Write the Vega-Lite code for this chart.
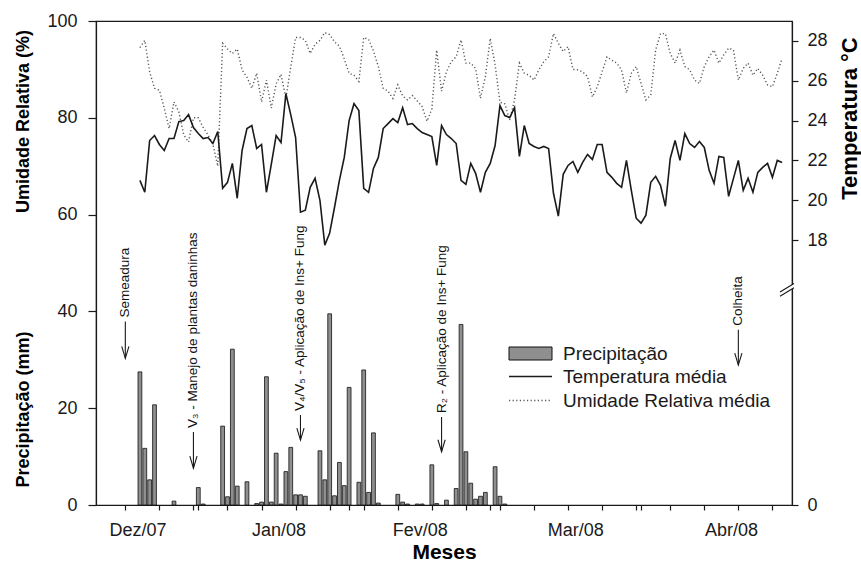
{
  "$schema": "https://vega.github.io/schema/vega-lite/v6.json",
  "width": 696,
  "height": 484,
  "autosize": {"type": "none"},
  "padding": {"left": 96, "top": 21, "right": 69, "bottom": 57},
  "background": "white",
  "config": {
    "font": "Liberation Sans",
    "view": {"stroke": "#1a1a1a", "strokeWidth": 1.2},
    "axis": {
      "grid": false,
      "domainColor": "#1a1a1a",
      "domainWidth": 1.2,
      "tickColor": "#1a1a1a",
      "tickWidth": 1.2,
      "labelColor": "#1a1a1a",
      "titleColor": "#000000",
      "labelFont": "Liberation Sans",
      "titleFont": "Liberation Sans",
      "labelFontSize": 18,
      "titleFontSize": 18,
      "titleFontWeight": "bold"
    },
    "legend": {
      "title": null,
      "orient": "none",
      "padding": 0,
      "labelFont": "Liberation Sans",
      "labelFontSize": 19,
      "labelColor": "#1a1a1a",
      "labelLimit": 400,
      "labelOffset": 23,
      "symbolSize": 100
    }
  },
  "datasets": {
    "clima": [
      {"data": "2007-12-20", "temp": 21.0, "ur": 94.5, "prec": 27.5},
      {"data": "2007-12-21", "temp": 20.4, "ur": 96.0, "prec": 11.7},
      {"data": "2007-12-22", "temp": 23.0, "ur": 89.5, "prec": 5.2},
      {"data": "2007-12-23", "temp": 23.25, "ur": 86.1, "prec": 20.7},
      {"data": "2007-12-24", "temp": 22.8, "ur": 85.7},
      {"data": "2007-12-25", "temp": 22.5, "ur": 82.0},
      {"data": "2007-12-26", "temp": 23.1, "ur": 77.8},
      {"data": "2007-12-27", "temp": 23.1, "ur": 83.3, "prec": 0.8},
      {"data": "2007-12-28", "temp": 23.95, "ur": 81.2},
      {"data": "2007-12-29", "temp": 24.0, "ur": 76.5},
      {"data": "2007-12-30", "temp": 24.3, "ur": 75.0},
      {"data": "2007-12-31", "temp": 23.65, "ur": 80.0},
      {"data": "2008-01-01", "temp": 23.35, "ur": 80.0, "prec": 3.6},
      {"data": "2008-01-02", "temp": 23.1, "ur": 78.0, "prec": 0.2},
      {"data": "2008-01-03", "temp": 23.15, "ur": 76.5},
      {"data": "2008-01-04", "temp": 22.85, "ur": 74.5},
      {"data": "2008-01-05", "temp": 23.45, "ur": 70.0},
      {"data": "2008-01-06", "temp": 20.6, "ur": 95.4, "prec": 16.3},
      {"data": "2008-01-07", "temp": 20.9, "ur": 94.2, "prec": 1.7},
      {"data": "2008-01-08", "temp": 21.85, "ur": 93.3, "prec": 32.2},
      {"data": "2008-01-09", "temp": 20.1, "ur": 94.2, "prec": 3.9},
      {"data": "2008-01-10", "temp": 22.5, "ur": 89.9},
      {"data": "2008-01-11", "temp": 23.6, "ur": 88.4, "prec": 4.8},
      {"data": "2008-01-12", "temp": 23.75, "ur": 86.1},
      {"data": "2008-01-13", "temp": 22.6, "ur": 89.2, "prec": 0.3},
      {"data": "2008-01-14", "temp": 22.8, "ur": 83.3, "prec": 0.6},
      {"data": "2008-01-15", "temp": 20.4, "ur": 87.8, "prec": 26.5},
      {"data": "2008-01-16", "temp": 21.8, "ur": 82.0, "prec": 0.6},
      {"data": "2008-01-17", "temp": 23.25, "ur": 87.0, "prec": 10.7},
      {"data": "2008-01-18", "temp": 22.9, "ur": 89.0, "prec": 0.2},
      {"data": "2008-01-19", "temp": 25.35, "ur": 84.0, "prec": 6.9},
      {"data": "2008-01-20", "temp": 24.3, "ur": 90.5, "prec": 11.9},
      {"data": "2008-01-21", "temp": 23.15, "ur": 96.6, "prec": 2.1},
      {"data": "2008-01-22", "temp": 19.4, "ur": 96.6, "prec": 2.1},
      {"data": "2008-01-23", "temp": 19.5, "ur": 96.0, "prec": 1.8},
      {"data": "2008-01-24", "temp": 20.65, "ur": 93.3},
      {"data": "2008-01-25", "temp": 21.1, "ur": 95.2},
      {"data": "2008-01-26", "temp": 20.0, "ur": 96.0, "prec": 11.2},
      {"data": "2008-01-27", "temp": 17.75, "ur": 97.6, "prec": 5.2},
      {"data": "2008-01-28", "temp": 18.35, "ur": 97.2, "prec": 39.5},
      {"data": "2008-01-29", "temp": 19.65, "ur": 95.7, "prec": 1.9},
      {"data": "2008-01-30", "temp": 21.0, "ur": 94.8, "prec": 8.8},
      {"data": "2008-01-31", "temp": 22.15, "ur": 92.2, "prec": 4.0},
      {"data": "2008-02-01", "temp": 24.0, "ur": 89.2, "prec": 24.3},
      {"data": "2008-02-02", "temp": 24.85, "ur": 88.8},
      {"data": "2008-02-03", "temp": 24.5, "ur": 87.5, "prec": 4.7},
      {"data": "2008-02-04", "temp": 20.6, "ur": 96.6, "prec": 27.9},
      {"data": "2008-02-05", "temp": 20.4, "ur": 96.2, "prec": 2.6},
      {"data": "2008-02-06", "temp": 21.6, "ur": 93.8, "prec": 14.9},
      {"data": "2008-02-07", "temp": 22.15, "ur": 90.6, "prec": 0.4},
      {"data": "2008-02-08", "temp": 23.6, "ur": 86.1},
      {"data": "2008-02-09", "temp": 23.85, "ur": 85.5},
      {"data": "2008-02-10", "temp": 24.1, "ur": 84.0},
      {"data": "2008-02-11", "temp": 23.9, "ur": 86.8, "prec": 2.2},
      {"data": "2008-02-12", "temp": 24.65, "ur": 84.5, "prec": 0.6},
      {"data": "2008-02-13", "temp": 23.8, "ur": 83.7, "prec": 0.2},
      {"data": "2008-02-14", "temp": 23.85, "ur": 84.6},
      {"data": "2008-02-15", "temp": 23.6, "ur": 83.5, "prec": 0.2},
      {"data": "2008-02-16", "temp": 23.4, "ur": 82.3, "prec": 0.2},
      {"data": "2008-02-17", "temp": 23.3, "ur": 79.3},
      {"data": "2008-02-18", "temp": 23.2, "ur": 81.8, "prec": 8.3},
      {"data": "2008-02-19", "temp": 21.75, "ur": 94.0, "prec": 0.3},
      {"data": "2008-02-20", "temp": 23.75, "ur": 85.5},
      {"data": "2008-02-21", "temp": 23.3, "ur": 89.5, "prec": 1.0},
      {"data": "2008-02-22", "temp": 23.1, "ur": 91.6},
      {"data": "2008-02-23", "temp": 22.85, "ur": 92.6, "prec": 3.4},
      {"data": "2008-02-24", "temp": 21.0, "ur": 96.1, "prec": 37.3},
      {"data": "2008-02-25", "temp": 20.8, "ur": 91.3, "prec": 11.0},
      {"data": "2008-02-26", "temp": 21.85, "ur": 91.3, "prec": 4.5},
      {"data": "2008-02-27", "temp": 21.35, "ur": 90.2, "prec": 1.2},
      {"data": "2008-02-28", "temp": 20.4, "ur": 84.0, "prec": 1.8},
      {"data": "2008-02-29", "temp": 21.4, "ur": 88.5, "prec": 2.6},
      {"data": "2008-03-01", "temp": 21.85, "ur": 96.4},
      {"data": "2008-03-02", "temp": 22.75, "ur": 91.0, "prec": 7.9},
      {"data": "2008-03-03", "temp": 24.75, "ur": 83.2, "prec": 1.8},
      {"data": "2008-03-04", "temp": 24.25, "ur": 82.9, "prec": 0.2},
      {"data": "2008-03-05", "temp": 24.15, "ur": 79.5},
      {"data": "2008-03-06", "temp": 24.65, "ur": 83.7},
      {"data": "2008-03-07", "temp": 22.2, "ur": 91.3},
      {"data": "2008-03-08", "temp": 23.75, "ur": 89.2},
      {"data": "2008-03-09", "temp": 22.85, "ur": 88.8},
      {"data": "2008-03-10", "temp": 22.7, "ur": 87.8},
      {"data": "2008-03-11", "temp": 22.6, "ur": 89.9},
      {"data": "2008-03-12", "temp": 22.7, "ur": 91.6},
      {"data": "2008-03-13", "temp": 22.6, "ur": 92.6},
      {"data": "2008-03-14", "temp": 20.35, "ur": 97.4},
      {"data": "2008-03-15", "temp": 19.2, "ur": 95.4},
      {"data": "2008-03-16", "temp": 21.3, "ur": 93.7},
      {"data": "2008-03-17", "temp": 21.75, "ur": 94.7},
      {"data": "2008-03-18", "temp": 21.95, "ur": 90.0},
      {"data": "2008-03-19", "temp": 21.4, "ur": 89.9},
      {"data": "2008-03-20", "temp": 21.9, "ur": 89.5},
      {"data": "2008-03-21", "temp": 22.3, "ur": 88.5},
      {"data": "2008-03-22", "temp": 22.05, "ur": 84.3},
      {"data": "2008-03-23", "temp": 22.8, "ur": 86.4},
      {"data": "2008-03-24", "temp": 22.8, "ur": 89.5},
      {"data": "2008-03-25", "temp": 21.4, "ur": 92.6},
      {"data": "2008-03-26", "temp": 21.15, "ur": 91.9},
      {"data": "2008-03-27", "temp": 20.85, "ur": 91.3},
      {"data": "2008-03-28", "temp": 20.65, "ur": 89.9},
      {"data": "2008-03-29", "temp": 22.0, "ur": 85.1},
      {"data": "2008-03-30", "temp": 20.5, "ur": 89.2},
      {"data": "2008-03-31", "temp": 19.1, "ur": 90.6},
      {"data": "2008-04-01", "temp": 18.85, "ur": 87.1},
      {"data": "2008-04-02", "temp": 19.25, "ur": 83.7},
      {"data": "2008-04-03", "temp": 20.9, "ur": 84.7},
      {"data": "2008-04-04", "temp": 21.2, "ur": 94.0},
      {"data": "2008-04-05", "temp": 20.75, "ur": 97.4},
      {"data": "2008-04-06", "temp": 19.7, "ur": 97.4},
      {"data": "2008-04-07", "temp": 22.1, "ur": 93.3},
      {"data": "2008-04-08", "temp": 23.0, "ur": 91.3},
      {"data": "2008-04-09", "temp": 22.0, "ur": 94.0},
      {"data": "2008-04-10", "temp": 23.35, "ur": 90.6},
      {"data": "2008-04-11", "temp": 22.85, "ur": 89.9},
      {"data": "2008-04-12", "temp": 22.65, "ur": 87.8},
      {"data": "2008-04-13", "temp": 22.95, "ur": 87.1},
      {"data": "2008-04-14", "temp": 22.65, "ur": 90.6},
      {"data": "2008-04-15", "temp": 21.5, "ur": 92.6},
      {"data": "2008-04-16", "temp": 20.85, "ur": 94.0},
      {"data": "2008-04-17", "temp": 22.2, "ur": 91.3},
      {"data": "2008-04-18", "temp": 22.15, "ur": 93.0},
      {"data": "2008-04-19", "temp": 20.2, "ur": 94.4},
      {"data": "2008-04-20", "temp": 21.1, "ur": 94.0},
      {"data": "2008-04-21", "temp": 22.0, "ur": 87.8},
      {"data": "2008-04-22", "temp": 20.5, "ur": 90.2},
      {"data": "2008-04-23", "temp": 21.1, "ur": 91.3},
      {"data": "2008-04-24", "temp": 20.4, "ur": 88.8},
      {"data": "2008-04-25", "temp": 21.4, "ur": 90.2},
      {"data": "2008-04-26", "temp": 21.65, "ur": 88.8},
      {"data": "2008-04-27", "temp": 21.85, "ur": 86.8},
      {"data": "2008-04-28", "temp": 21.15, "ur": 86.4},
      {"data": "2008-04-29", "temp": 22.0, "ur": 89.2},
      {"data": "2008-04-30", "temp": 21.9, "ur": 92.3}
    ],
    "eventos": [
      {"evento": "Semeadura", "data": "2007-12-17", "topo": 37.9, "ponta": 30.3},
      {"evento": "V₃ - Manejo de plantas daninhas", "data": "2007-12-31", "topo": 15.1, "ponta": 7.6},
      {"evento": "V₄/V₅ - Aplicação de Ins+ Fung", "data": "2008-01-22", "topo": 18.6, "ponta": 13.4},
      {"evento": "R₂ - Aplicação de Ins+ Fung", "data": "2008-02-20", "topo": 18.2, "ponta": 11.0},
      {"evento": "Colheita", "data": "2008-04-21", "topo": 36.2, "ponta": 28.9}
    ]
  },
  "layer": [
    {
      "layer": [
        {
          "data": {"name": "clima"},
          "transform": [{"filter": "datum.prec > 0"}],
          "mark": {"type": "bar", "width": 3.8, "stroke": "#111111", "strokeWidth": 0.8},
          "encoding": {
            "x": {
              "field": "data",
              "type": "temporal",
              "scale": {
                "type": "utc",
                "domain": [
                  {"year": 2007, "month": 12, "date": 12, "utc": true},
                  {"year": 2008, "month": 5, "date": 1, "utc": true}
                ]
              },
              "axis": {
                "orient": "bottom",
                "title": "Meses",
                "titleFontSize": 21,
                "titleY": 53,
                "titleBaseline": "alphabetic",
                "values": [
                  {"year": 2007, "month": 12, "date": 19, "hours": 12, "utc": true},
                  {"year": 2008, "month": 1, "date": 17, "hours": 12, "utc": true},
                  {"year": 2008, "month": 2, "date": 15, "hours": 12, "utc": true},
                  {"year": 2008, "month": 3, "date": 18, "hours": 12, "utc": true},
                  {"year": 2008, "month": 4, "date": 19, "hours": 12, "utc": true}
                ],
                "labelExpr": "['Dez/07','Jan/08','Fev/08','Mar/08','Abr/08'][utcmonth(datum.value) == 11 ? 0 : utcmonth(datum.value) + 1]",
                "labelOverlap": false,
                "labelFlush": false,
                "labelBound": false,
                "labelAlign": "center",
                "ticks": false,
                "labelPadding": 16
              }
            },
            "y": {
              "field": "prec",
              "type": "quantitative",
              "stack": null,
              "scale": {"domain": [0, 100], "nice": false},
              "axis": {
                "orient": "left",
                "values": [0, 20, 40, 60, 80, 100],
                "title": "Precipitação (mm)",
                "titleX": -64,
                "titleY": 388,
                "titleAngle": 270,
                "titleBaseline": "bottom",
                "titleAlign": "center",
                "tickSize": 8,
                "labelPadding": 11
              }
            },
            "color": {
              "datum": "Precipitação",
              "scale": {"range": ["#8f8f8f"]},
              "legend": {
                "legendX": 425,
                "legendY": 323,
                "symbolType": "M-4.3,-1.3H4.3V1.3H-4.3Z",
                "symbolStrokeColor": "#111111",
                "symbolStrokeWidth": 1
              }
            }
          }
        },
        {
          "data": {"name": "eventos"},
          "mark": {"type": "rule", "color": "#1a1a1a", "strokeWidth": 1.1},
          "encoding": {
            "x": {"field": "data", "type": "temporal", "scale": {"type": "utc"}},
            "y": {"field": "topo", "type": "quantitative"},
            "y2": {"field": "ponta"}
          }
        },
        {
          "data": {"name": "eventos"},
          "mark": {"type": "point", "shape": "M-0.3,-1L0,0L0.3,-1", "size": 576, "filled": false, "stroke": "#1a1a1a", "strokeWidth": 1.1, "opacity": 1},
          "encoding": {
            "x": {"field": "data", "type": "temporal", "scale": {"type": "utc"}},
            "y": {"field": "ponta", "type": "quantitative"}
          }
        },
        {
          "data": {"name": "eventos"},
          "mark": {"type": "text", "angle": 270, "align": "left", "baseline": "middle", "dx": 4, "fontSize": 13.5, "color": "#111111"},
          "encoding": {
            "x": {"field": "data", "type": "temporal", "scale": {"type": "utc"}},
            "y": {"field": "topo", "type": "quantitative"},
            "text": {"field": "evento"}
          }
        }
      ]
    },
    {
      "data": {"name": "clima"},
      "mark": {"type": "line", "strokeDash": [1.2, 2.4], "strokeWidth": 1.4},
      "encoding": {
        "x": {
          "field": "data",
          "type": "temporal",
          "scale": {"type": "utc"},
          "axis": {
            "orient": "bottom",
            "title": null,
            "labels": false,
            "domain": false,
            "ticks": true,
            "tickSize": 5,
            "values": [
              {"year": 2007, "month": 12, "date": 17, "utc": true},
              {"year": 2007, "month": 12, "date": 24, "utc": true},
              {"year": 2007, "month": 12, "date": 31, "utc": true},
              {"year": 2008, "month": 1, "date": 1, "utc": true},
              {"year": 2008, "month": 1, "date": 7, "utc": true},
              {"year": 2008, "month": 1, "date": 14, "utc": true},
              {"year": 2008, "month": 1, "date": 21, "utc": true},
              {"year": 2008, "month": 1, "date": 28, "utc": true},
              {"year": 2008, "month": 2, "date": 1, "utc": true},
              {"year": 2008, "month": 2, "date": 4, "utc": true},
              {"year": 2008, "month": 2, "date": 11, "utc": true},
              {"year": 2008, "month": 2, "date": 18, "utc": true},
              {"year": 2008, "month": 2, "date": 25, "utc": true},
              {"year": 2008, "month": 3, "date": 1, "utc": true},
              {"year": 2008, "month": 3, "date": 3, "utc": true},
              {"year": 2008, "month": 3, "date": 10, "utc": true},
              {"year": 2008, "month": 3, "date": 17, "utc": true},
              {"year": 2008, "month": 3, "date": 24, "utc": true},
              {"year": 2008, "month": 3, "date": 31, "utc": true},
              {"year": 2008, "month": 4, "date": 1, "utc": true},
              {"year": 2008, "month": 4, "date": 7, "utc": true},
              {"year": 2008, "month": 4, "date": 14, "utc": true},
              {"year": 2008, "month": 4, "date": 21, "utc": true},
              {"year": 2008, "month": 4, "date": 28, "utc": true}
            ]
          }
        },
        "y": {
          "field": "ur",
          "type": "quantitative",
          "scale": {"domain": [0, 100], "nice": false},
          "axis": {
            "orient": "left",
            "title": "Umidade Relativa (%)",
            "labels": false,
            "ticks": false,
            "domain": false,
            "titleX": -64,
            "titleY": 100,
            "titleAngle": 270,
            "titleBaseline": "bottom",
            "titleAlign": "center"
          }
        },
        "color": {
          "datum": "Umidade Relativa média",
          "scale": {"range": ["#555555"]},
          "legend": {
            "legendX": 425,
            "legendY": 370,
            "symbolType": "M-4.3,0H4.3",
            "symbolStrokeWidth": 1.3,
            "symbolDash": [1.2, 2.4]
          }
        }
      }
    },
    {
      "layer": [
        {
          "data": {"name": "clima"},
          "mark": {"type": "line", "strokeWidth": 1.6},
          "encoding": {
            "x": {"field": "data", "type": "temporal", "scale": {"type": "utc"}, "axis": null},
            "y": {
              "field": "temp",
              "type": "quantitative",
              "scale": {"domain": [4.7, 29.0], "nice": false, "zero": false},
              "axis": {
                "orient": "right",
                "values": [4.7, 18, 20, 22, 24, 26, 28],
                "labelExpr": "datum.value < 10 ? '0' : datum.label",
                "title": "Temperatura °C",
                "titleFontSize": 22,
                "titleAngle": 270,
                "titleBaseline": "bottom",
                "titleAlign": "center",
                "titleX": 69,
                "titleY": 97,
                "tickSize": 6,
                "labelPadding": 9
              }
            },
            "color": {
              "datum": "Temperatura média",
              "scale": {"range": ["#1a1a1a"]},
              "legend": {
                "legendX": 425,
                "legendY": 346,
                "symbolType": "M-4.3,0H4.3",
                "symbolStrokeWidth": 1.6
              }
            }
          }
        },
        {
          "data": {"values": [{"marca": "quebra"}]},
          "mark": {"type": "point", "shape": "M-1,0.9L1,-0.3L1,-0.9L-1,0.3Z", "size": 196, "filled": true, "fill": "white", "strokeWidth": 0, "opacity": 1},
          "encoding": {
            "x": {"datum": {"year": 2008, "month": 5, "date": 1, "utc": true}, "type": "temporal", "scale": {"type": "utc"}, "axis": null},
            "y": {"datum": 15.5, "type": "quantitative"}
          }
        },
        {
          "data": {"values": [{"marca": "quebra"}]},
          "mark": {"type": "point", "shape": "M-1,0.9L1,-0.3M-1,0.3L1,-0.9", "size": 196, "filled": false, "stroke": "#1a1a1a", "strokeWidth": 1.1, "opacity": 1},
          "encoding": {
            "x": {"datum": {"year": 2008, "month": 5, "date": 1, "utc": true}, "type": "temporal", "scale": {"type": "utc"}, "axis": null},
            "y": {"datum": 15.5, "type": "quantitative"}
          }
        }
      ]
    }
  ],
  "resolve": {
    "scale": {"y": "independent", "color": "independent"},
    "axis": {"x": "independent"},
    "legend": {"color": "independent"}
  }
}
